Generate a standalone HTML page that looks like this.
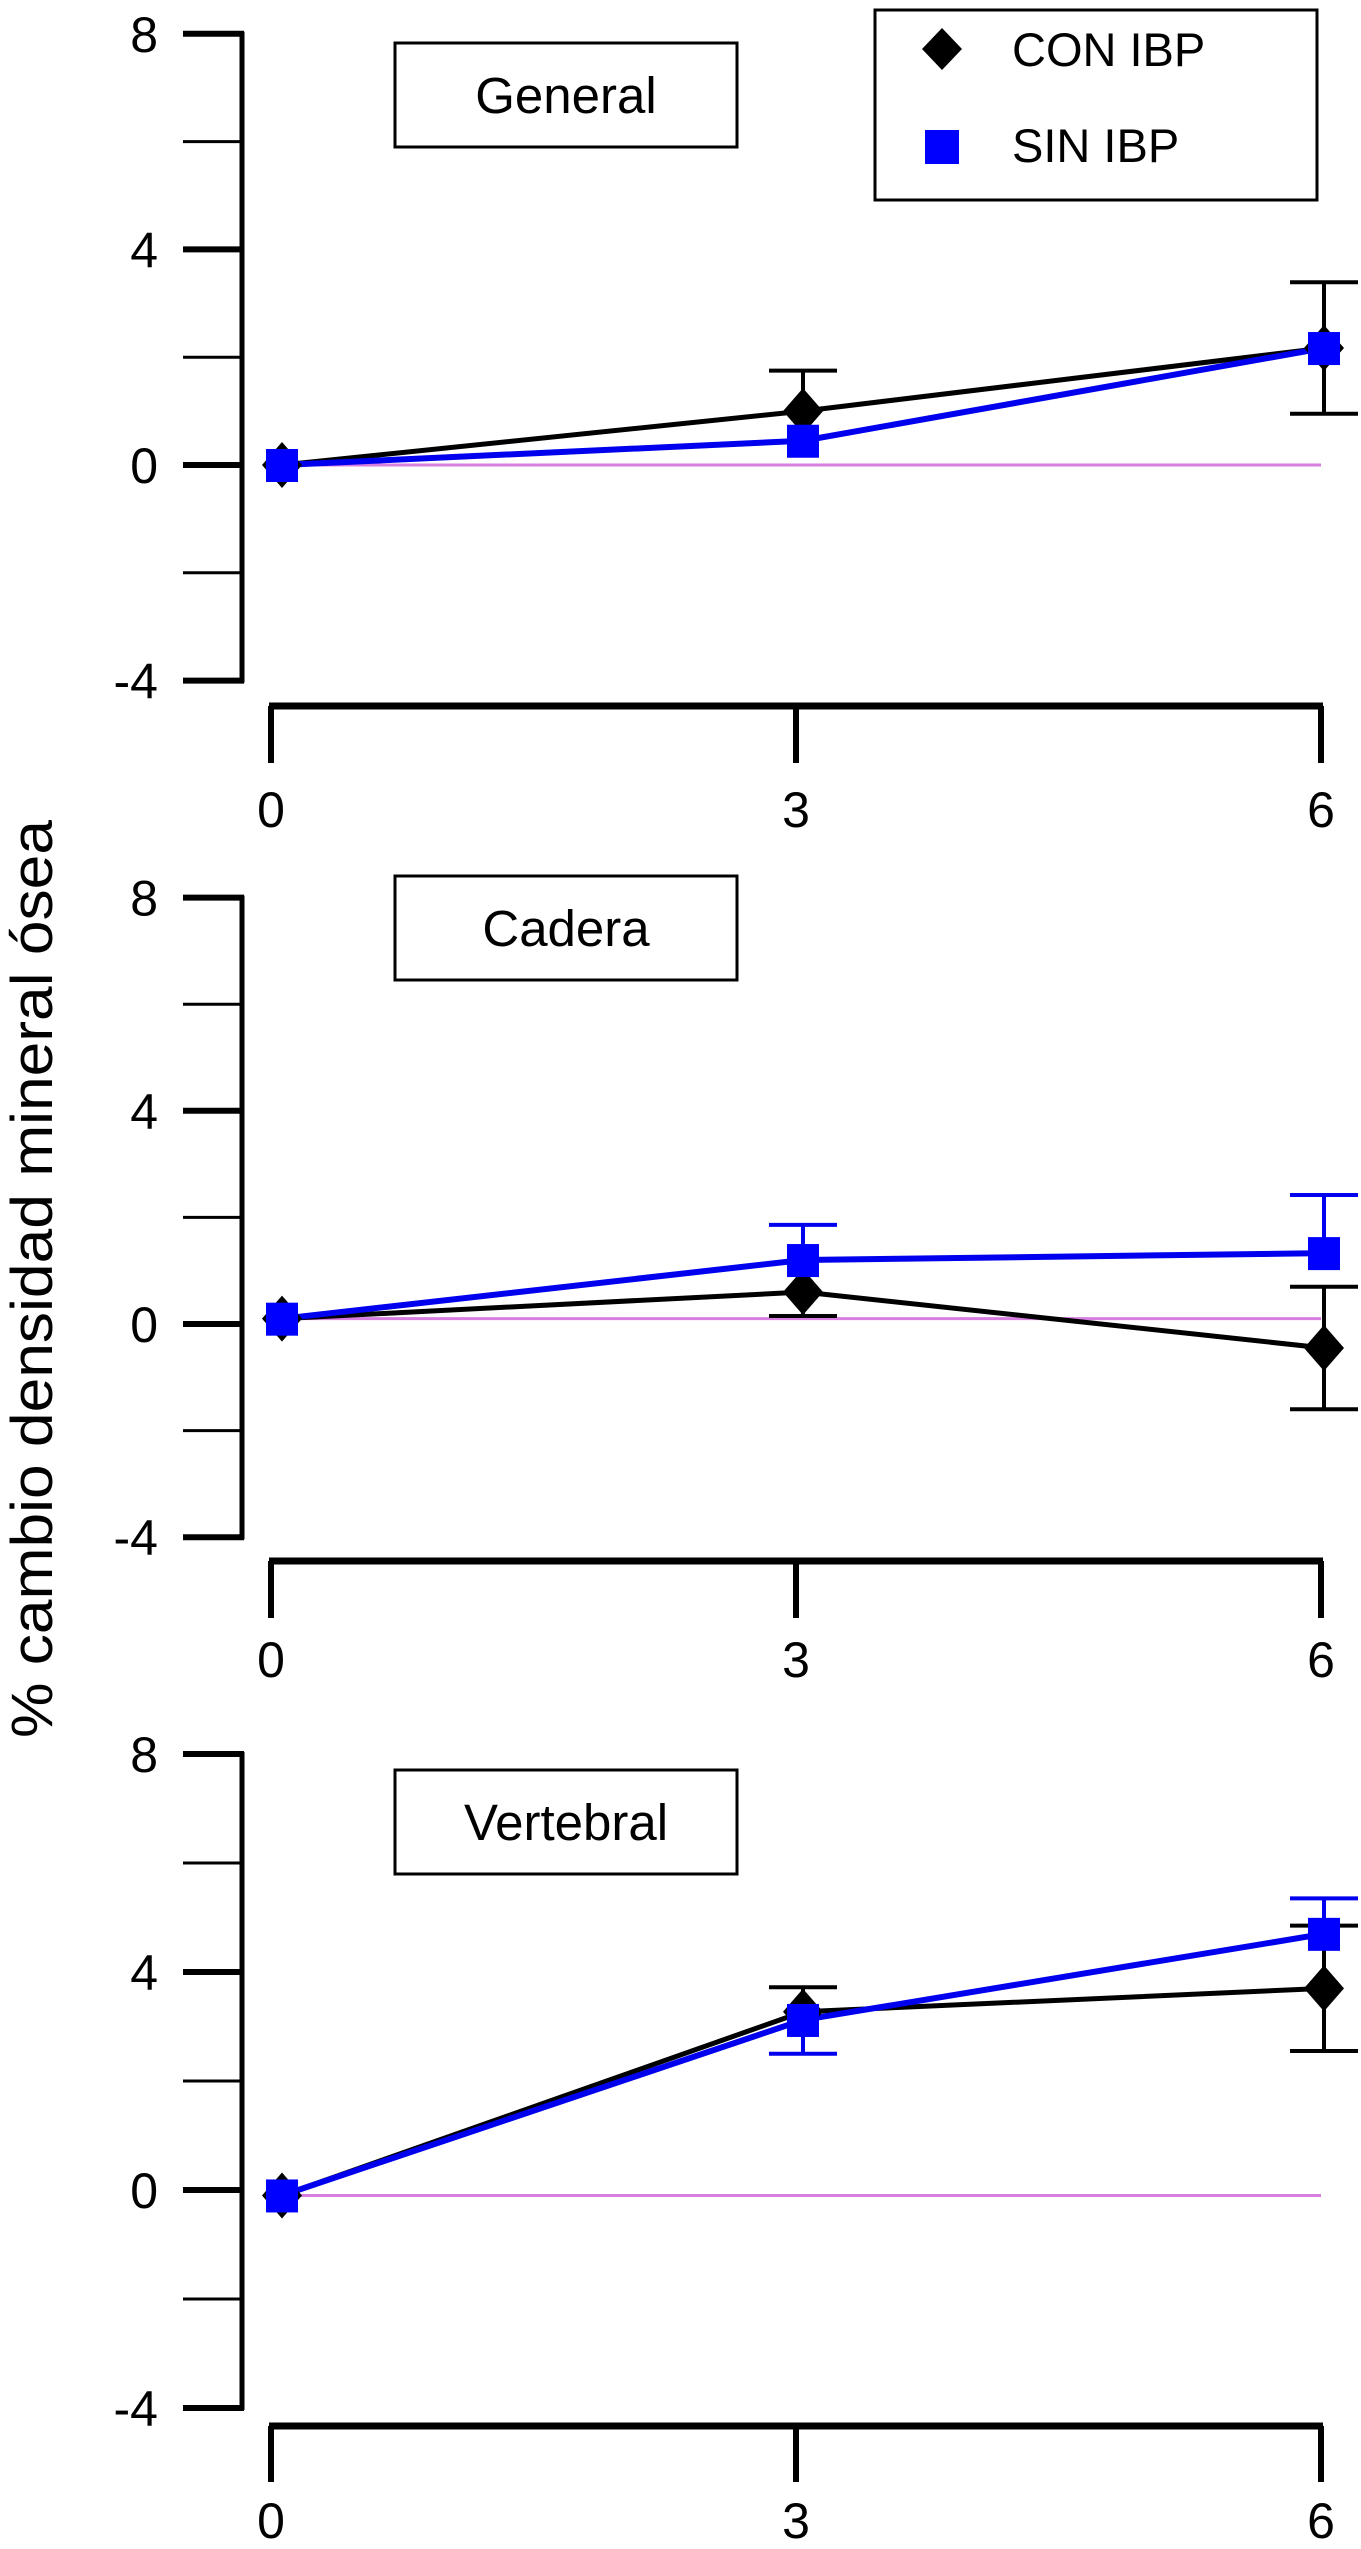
<!DOCTYPE html>
<html><head><meta charset="utf-8"><style>
html,body{margin:0;padding:0;background:#fff;}
svg{display:block;}
text{font-family:"Liberation Sans",sans-serif;}
</style></head><body>
<svg id="chart" width="1361" height="2549" viewBox="0 0 1361 2549" xmlns="http://www.w3.org/2000/svg">
<text x="0" y="0" transform="translate(52,1279) rotate(-90)" text-anchor="middle" font-size="58" textLength="918" lengthAdjust="spacingAndGlyphs">% cambio densidad mineral ósea</text>
<g>
<rect x="875" y="10" width="442" height="190" fill="#fff" stroke="#000" stroke-width="3"/>
<polygon points="942,28 962,49 942,70 922,49" fill="#000"/>
<text x="1012" y="66" font-size="47">CON IBP</text>
<rect x="925" y="130" width="34" height="34" fill="#0000ff"/>
<text x="1012" y="162" font-size="47">SIN IBP</text>
</g>
</svg>
<script>
const xCats=[0,3,6];
const yTicks=[8,4,0,-4];
const panelTitles=["General","Cadera","Vertebral"];
const conGeneral=[0,1.0,2.17];
const conGeneralErr=[0,0.75,1.22];
const sinGeneral=[0,0.45,2.17];
const sinGeneralErr=[0,0,0];
const conCadera=[0.1,0.6,-0.45];
const conCaderaErr=[0,0.45,1.15];
const sinCadera=[0.1,1.2,1.33];
const sinCaderaErr=[0,0.66,1.09];
const conVertebral=[-0.1,3.27,3.7];
const conVertebralErr=[0,0.45,1.15];
const sinVertebral=[-0.1,3.12,4.7];
const sinVertebralErr=[0,0.62,0.65];
const baselines=[0,0.1,-0.1];

const svg=document.getElementById('chart');
const NS='http://www.w3.org/2000/svg';
function mk(tag,attrs,parent){const e=document.createElementNS(NS,tag);for(const k in attrs)e.setAttribute(k,attrs[k]);(parent||svg).appendChild(e);return e;}

const panels=[
 {zero:465,unit:53.9,xaxisY:706,tickBot:763,labY:827,titleY:43,con:conGeneral,conE:conGeneralErr,sin:sinGeneral,sinE:sinGeneralErr},
 {zero:1324,unit:53.3,xaxisY:1561,tickBot:1618,labY:1677,titleY:876,con:conCadera,conE:conCaderaErr,sin:sinCadera,sinE:sinCaderaErr},
 {zero:2190,unit:54.5,xaxisY:2426,tickBot:2482,labY:2538,titleY:1770,con:conVertebral,conE:conVertebralErr,sin:sinVertebral,sinE:sinVertebralErr}
];
const xAxisPos=v=>271+(v/6)*1050;
const xData=v=>282+(v/6)*1042;

panels.forEach((p,pi)=>{
 const g=mk('g',{});
 
 
 const yS=v=>p.zero-v*p.unit;
 const ya=mk('line',{x1:242,x2:242,y1:yS(8)-2,y2:yS(-4)+2,stroke:'#000','stroke-width':5},g);
 
 
 for(let v=-4;v<=8;v+=2){
  const major=yTicks.includes(v);
  const t=mk('line',{x1:183,x2:244,y1:yS(v),y2:yS(v),stroke:'#000','stroke-width':major?6:3},g);
  
  
 }
 yTicks.forEach(v=>{
  const t=mk('text',{x:158,y:yS(v)+18,'text-anchor':'end','font-size':50},g);
  t.textContent=String(v);
  
  
 });
 const xa=mk('line',{x1:xAxisPos(0)-2,x2:xAxisPos(6)+2,y1:p.xaxisY,y2:p.xaxisY,stroke:'#000','stroke-width':7},g);
 
 
 xCats.forEach(c=>{
  const t=mk('line',{x1:xAxisPos(c),x2:xAxisPos(c),y1:p.xaxisY,y2:p.tickBot,stroke:'#000','stroke-width':6},g);
  
  
  const l=mk('text',{x:xAxisPos(c),y:p.labY,'text-anchor':'middle','font-size':50},g);
  l.textContent=String(c);
  
  
 });
 const tb=mk('rect',{x:395,y:p.titleY,width:342,height:104,fill:'#fff',stroke:'#000','stroke-width':3},g);
 
 
 const tt=mk('text',{x:566,y:p.titleY+70,'text-anchor':'middle','font-size':51},g);
 tt.textContent=panelTitles[pi];
 
 
 const bl=mk('line',{x1:xData(0),x2:xAxisPos(6),y1:yS(baselines[pi]),y2:yS(baselines[pi]),stroke:'#d77ee0','stroke-width':3},g);
 
 
 const series=[{vals:p.con,err:p.conE,color:'#000',name:'con-ibp',errDir:[1,1,-1]},{vals:p.sin,err:p.sinE,color:'#0000ee',name:'sin-ibp',errDir:[1,1,1]}];
 if(pi===0){series[0].errDir=[1,1,1];series[1].errDir=[1,-1,-1];}
 if(pi===1){series[0].errDir=[1,-1,1];}
 if(pi===2){series[0].errDir=[1,1,1];series[1].errDir=[1,-1,1];}
 series.forEach((s,si)=>{
  s.vals.forEach((v,i)=>{
   if(!s.err[i])return;
   const x=xData(xCats[i]);
   const both=(si===0&&i===2);
   const ends=both?[v+s.err[i],v-s.err[i]]:[v+s.errDir[i]*s.err[i]];
   ends.forEach(e=>{
    const eb=mk('line',{x1:x,x2:x,y1:yS(v),y2:yS(e),stroke:s.color,'stroke-width':4},g);
    
    
    const cap=mk('line',{x1:x-34,x2:x+34,y1:yS(e),y2:yS(e),stroke:s.color,'stroke-width':4},g);
    
    
   });
  });
 });
 series.forEach((s,si)=>{
  const pts=s.vals.map((v,i)=>xData(xCats[i])+','+yS(v)).join(' ');
  const ln=mk('polyline',{points:pts,fill:'none',stroke:s.color,'stroke-width':si?6:5,'stroke-linejoin':'round'},g);
  
  
 });
 series.forEach((s,si)=>{
  s.vals.forEach((v,i)=>{
   const x=xData(xCats[i]),y=yS(v);
   let m;
   if(si===0){m=mk('polygon',{points:`${x},${y-23} ${x+20},${y} ${x},${y+23} ${x-20},${y}`,fill:'#000'},g);}
   else{m=mk('rect',{x:x-16,y:y-16,width:32,height:33,fill:'#0000ff'},g);}
   
   
  });
 });
});
</script>
</body></html>
